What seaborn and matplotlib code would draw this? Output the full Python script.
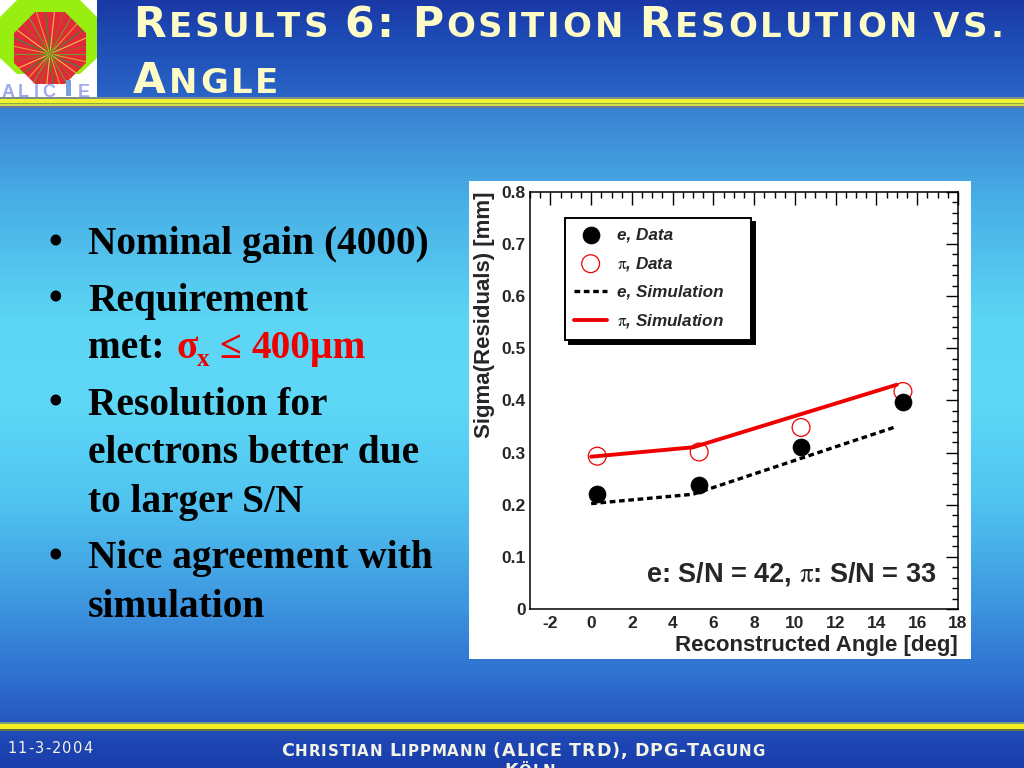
import numpy as np
import pandas as pd
import matplotlib
matplotlib.use("Agg")
import matplotlib.pyplot as plt
import seaborn as sns
from matplotlib.patches import Rectangle, Polygon

# ---------------- data ----------------
angle_data = [0.3, 5.3, 10.3, 15.3]
e_data = [0.220, 0.238, 0.311, 0.396]
pi_data = [0.293, 0.301, 0.348, 0.417]

angle_sim = [0, 5, 10, 15]
e_sim = [0.202, 0.220, 0.285, 0.350]
pi_sim = [0.292, 0.310, 0.370, 0.430]

x_ticks = [-2, 0, 2, 4, 6, 8, 10, 12, 14, 16, 18]
y_ticks = [0, 0.1, 0.2, 0.3, 0.4, 0.5, 0.6, 0.7, 0.8]
y_tick_labels = ["0", "0.1", "0.2", "0.3", "0.4", "0.5", "0.6", "0.7", "0.8"]
series_labels = ["e, Data", "$\\mathrm{\\pi}$, Data",
                 "e, Simulation", "$\\mathrm{\\pi}$, Simulation"]
x_label = "Reconstructed Angle [deg]"
y_label = "Sigma(Residuals) [mm]"
sn_text = "e: S/N = 42, $\\mathrm{\\pi}$: S/N = 33"

bullet_lines = ["Nominal gain (4000)", "Requirement", "met:", "Resolution for",
                "electrons better due", "to larger S/N", "Nice agreement with",
                "simulation"]
bullet_flags = [True, True, False, True, False, False, True, False]
footer_date = "11-3-2004"

# ---------------- style ----------------
sns.set_style("white")
plt.rcParams["font.family"] = ["Liberation Sans", "DejaVu Sans"]
plt.rcParams["mathtext.fontset"] = "stix"

W, H = 1024, 768
fig = plt.figure(figsize=(W / 100, H / 100), dpi=100)
bg = fig.add_axes([0, 0, 1, 1])
bg.set_xlim(0, W)
bg.set_ylim(H, 0)
bg.axis("off")
renderer = fig.canvas.get_renderer()

# background gradient
stops_y = [0, 40, 95, 110, 200, 320, 400, 500, 600, 690, 720, 740, 768]
stops_c = ["#1a38a6", "#1e4cb6", "#2a64c6", "#3a82d2", "#48aee6", "#5cd6f4",
           "#5ed8f6", "#50c4f0", "#3e98e0", "#2c68cc", "#2658c0", "#1e46b4",
           "#1a3eac"]
rgb = np.array([matplotlib.colors.to_rgb(c) for c in stops_c])
yy = np.arange(H)
grad = np.stack([np.interp(yy, stops_y, rgb[:, k]) for k in range(3)], axis=1)
bg.imshow(grad[:, None, :], extent=[0, W, H, 0], aspect="auto", zorder=0)

# header stripes
for y0, y1, c in [(97, 99.3, "#7d8d8a"), (99.3, 103, "#f2f230"),
                  (103, 104.4, "#8aa848"), (104.4, 106, "#d4dc4c"),
                  (106, 107.5, "#6c7c92")]:
    bg.add_patch(Rectangle((0, y0), W, y1 - y0, color=c, lw=0, zorder=1))
# footer stripes
for y0, y1, c in [(722.3, 724.3, "#7aa080"), (724.3, 729, "#f4f020"),
                  (729, 730.5, "#607040")]:
    bg.add_patch(Rectangle((0, y0), W, y1 - y0, color=c, lw=0, zorder=1))

# logo
bg.add_patch(Rectangle((0, 0), 97, 97, color="white", lw=0, zorder=1))
bg.add_patch(Polygon([(17, 0), (80, 0), (97, 17), (97, 58), (80, 74), (17, 74),
                      (0, 58), (0, 17)], closed=True, color="#99ee11", lw=0, zorder=2))
oct_pts = [(50 + 39 * np.cos(np.pi / 8 + k * np.pi / 4),
            48 + 39 * np.sin(np.pi / 8 + k * np.pi / 4)) for k in range(8)]
octo = Polygon(oct_pts, closed=True, color="#e2283a", lw=0, zorder=3)
bg.add_patch(octo)
track_cols = ["#6aa020", "#e0a020", "#2f8f30", "#f0c040", "#a06020"]
for k, a in enumerate(np.linspace(0, 2 * np.pi, 30, endpoint=False)):
    ln, = bg.plot([50, 50 + 45 * np.cos(a)], [54, 54 + 45 * np.sin(a)],
                  color=track_cols[k % 5], lw=0.8, zorder=4)
    ln.set_clip_path(octo)
for ch, xp in zip("ALICE", [2, 18, 34, 42, 78]):
    bg.text(xp, 97, ch, fontsize=13, weight="bold", color="#a0a8f0",
            family="Liberation Sans", va="baseline", zorder=5)
bg.add_patch(Rectangle((66, 80), 5, 16, color="#7aa0e0", lw=0, zorder=5))


def char_widths(pieces, family, weight):
    out = []
    for txt, size in pieces:
        for ch in txt:
            if ch == " ":
                out.append((ch, size, 0.30 * size / 0.72, True))
                continue
            t = bg.text(0, 0, ch, fontsize=size, family=family, weight=weight)
            out.append((ch, size, t.get_window_extent(renderer).width, False))
            t.remove()
    return out


def track_line(x0, y, pieces, color, family, weight="bold", right=None,
               track=None):
    cw = char_widths(pieces, family, weight)
    total = sum(c[2] for c in cw)
    if track is None:
        track = (right - x0 - total) / max(len(cw) - 1, 1)
    x = x0
    for ch, size, w, is_space in cw:
        if not is_space:
            bg.text(x, y, ch, fontsize=size, color=color, family=family,
                    weight=weight, va="baseline", ha="left", zorder=6)
        x += w + track
    return track


TB, TS = 30.5, 24.5
title_col = "#fdfbc6"
tfam = ["DejaVu Sans"]
tr = track_line(133, 37, [("R", TB), ("ESULTS ", TS), ("6: ", TB), ("P", TB),
                          ("OSITION ", TS), ("R", TB), ("ESOLUTION VS.", TS)],
                title_col, tfam, right=1003)
track_line(133, 93, [("A", TB), ("NGLE", TS)], title_col, tfam, track=tr)

# footer
ffam = ["DejaVu Sans"]
fcol = "#f4f4e4"
track_line(7, 753, [(footer_date, 10.5)], fcol, ffam, weight="normal", right=93)
FB, FS = 12.6, 10.8
ftr = track_line(281, 756, [("C", FB), ("HRISTIAN ", FS), ("L", FB), ("IPPMANN ", FS),
                            ("(ALICE TRD), DPG-T", FB), ("AGUNG", FS)],
                 fcol, ffam, weight="bold", right=765)
track_line(504, 776, [("K", FB), ("ÖLN", FS)], fcol, ffam, weight="bold",
           track=ftr)

# bullets
bfam = ["Liberation Serif", "DejaVu Serif"]
BS = 28.4
bullet_y = [254, 311, 358, 415, 463, 512, 568, 617]
for yb, txt, has_bullet in zip(bullet_y, bullet_lines, bullet_flags):
    if has_bullet:
        bg.text(49, yb, "•", fontsize=BS, family=bfam, weight="bold",
                color="black", va="baseline", zorder=6)
    bg.text(88, yb, txt, fontsize=BS, family=bfam, weight="bold",
            color="black", va="baseline", zorder=6)
red = "#ee0000"
bg.text(177, 358, "σ", fontsize=BS, family=bfam, weight="bold", color=red,
        va="baseline", zorder=6)
bg.text(197, 366, "x", fontsize=18, family=bfam, weight="bold", color=red,
        va="baseline", zorder=6)
bg.text(219, 358, "≤", fontsize=BS, family=bfam, weight="bold", color=red,
        va="baseline", zorder=6)
bg.text(252, 358, "400µm", fontsize=BS, family=bfam, weight="bold", color=red,
        va="baseline", zorder=6)

# white panel behind chart
bg.add_patch(Rectangle((469, 181), 502, 478, color="white", lw=0, zorder=5))

# ---------------- chart ----------------
ax = fig.add_axes([530 / W, 1 - 609 / H, 428 / W, (609 - 191.7) / H])
ax.set_facecolor("white")
df_data = pd.DataFrame({"angle": angle_data, "e": e_data, "pi": pi_data})
df_sim = pd.DataFrame({"angle": angle_sim, "e": e_sim, "pi": pi_sim})

sns.lineplot(data=df_sim, x="angle", y="e", ax=ax, color="black", lw=2.4,
             linestyle=(0, (1.7, 1.1)), errorbar=None, legend=False, zorder=2)
sns.lineplot(data=df_sim, x="angle", y="pi", ax=ax, color=red, lw=2.8,
             errorbar=None, legend=False, zorder=2)
sns.scatterplot(data=df_data, x="angle", y="pi", ax=ax, s=165, facecolor="none",
                edgecolor=red, linewidth=0.9, legend=False, zorder=3)
sns.scatterplot(data=df_data, x="angle", y="e", ax=ax, s=150, color="black",
                edgecolor="black", linewidth=0.5, legend=False, zorder=4)

e_line, pi_line = ax.lines[0], ax.lines[1]
pi_sc, e_sc = ax.collections[0], ax.collections[1]

ax.set_xlim(-3, 18)
ax.set_ylim(0, 0.8)
ax.set_xticks(x_ticks)
ax.set_xticklabels([str(v) for v in x_ticks])
ax.set_yticks(y_ticks)
ax.set_yticklabels(y_tick_labels)
ax.xaxis.set_minor_locator(matplotlib.ticker.MultipleLocator(0.5))
ax.yaxis.set_minor_locator(matplotlib.ticker.MultipleLocator(0.02))
ax.tick_params(which="both", direction="in", top=True, right=True,
               color="black", width=1.0)
ax.tick_params(which="major", length=9)
ax.tick_params(which="minor", length=4.5)
ax.tick_params(axis="x", which="major", pad=5)
ax.tick_params(axis="y", which="major", pad=3)
for lab in ax.get_xticklabels() + ax.get_yticklabels():
    lab.set_fontweight("bold")
    lab.set_fontsize(12.5)
for s in ax.spines.values():
    s.set_visible(True)
    s.set_color("black")
    s.set_linewidth(1.1)

ax.set_xlabel(x_label, loc="right", fontsize=16, weight="bold", labelpad=3)
ax.set_ylabel(y_label, loc="top", fontsize=16, weight="bold", labelpad=5)

ax.text(0.949, 0.065, sn_text, transform=ax.transAxes, ha="right",
        va="baseline", fontsize=19.5, weight="bold")

leg = ax.legend([e_sc, pi_sc, e_line, pi_line], series_labels,
                loc="upper left", bbox_to_anchor=(0.0818, 0.642, 0.434, 0.295),
                mode="expand", borderaxespad=0, frameon=True, fancybox=False,
                edgecolor="black", framealpha=1,
                shadow={"ox": 3, "oy": -3, "color": "black", "alpha": 1},
                prop={"weight": "bold", "style": "italic", "size": 12.3},
                handlelength=1.9, handletextpad=0.6, labelspacing=0.72,
                borderpad=0.55)
leg.get_frame().set_linewidth(1.4)

fig.savefig("out.png", dpi=100)
